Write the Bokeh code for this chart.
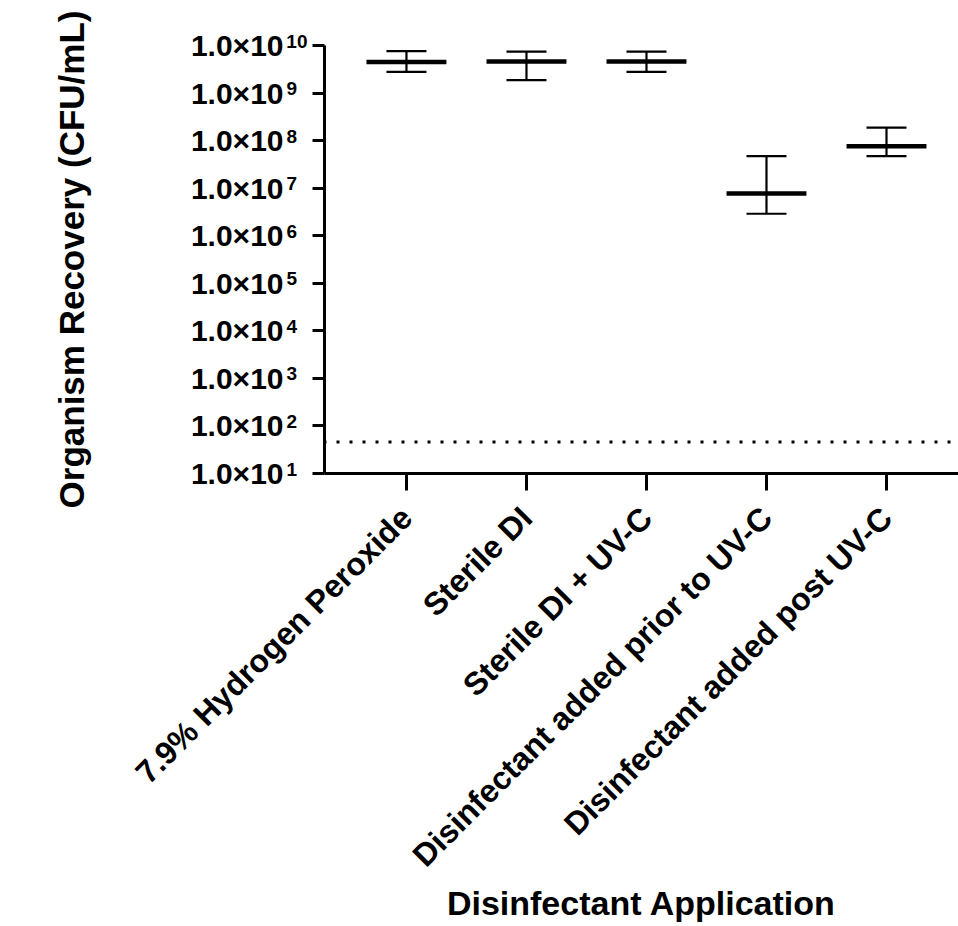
import math
from bokeh.plotting import figure
from bokeh.models import (Range1d, FixedTicker, Whisker, TeeHead, ColumnDataSource,
                          Span, LogAxis)
from bokeh.embed import file_html
from bokeh.resources import INLINE

# ---- data ----
categories = ["7.9% Hydrogen Peroxide", "Sterile DI", "Sterile DI + UV-C",
              "Disinfectant added prior to UV-C", "Disinfectant added post UV-C"]
means = [4.5e9, 4.6e9, 4.6e9, 7.7e6, 7.6e7]
upper = [7.6e9, 7.4e9, 7.4e9, 4.7e7, 1.87e8]
lower = [2.8e9, 1.87e9, 2.8e9, 2.9e6, 4.7e7]
detection_limit = 46
y_ticks = [1e1, 1e2, 1e3, 1e4, 1e5, 1e6, 1e7, 1e8, 1e9, 1e10]
y_tick_mantissa = "1.0×10"
y_tick_exponents = ["1", "2", "3", "4", "5", "6", "7", "8", "9", "10"]
x_title = "Disinfectant Application"
y_title = "Organism Recovery (CFU/mL)"

FONT = "Liberation Sans"
NBSP = "\u00a0"
xs = list(range(len(categories)))
mean_half = 0.333
X_START = -0.683

src = ColumnDataSource(dict(x=xs, mean=means, upper=upper, lower=lower,
                            x0=[x - mean_half for x in xs],
                            x1=[x + mean_half for x in xs]))

p = figure(width=958, height=926, output_backend="svg", toolbar_location=None,
           y_axis_type="log",
           x_range=Range1d(X_START, 4.6), y_range=Range1d(10, 1e10),
           min_border_left=324, min_border_right=0, min_border_top=45,
           min_border_bottom=453)
p.outline_line_color = None
p.xgrid.visible = False
p.ygrid.visible = False
p.background_fill_color = "white"
p.border_fill_color = "white"

# mean lines
p.segment(x0="x0", y0="mean", x1="x1", y1="mean", source=src,
          line_color="black", line_width=4.5)
# error bars
w = Whisker(source=src, base="x", upper="upper", lower="lower",
            line_color="black", line_width=2.2,
            upper_head=TeeHead(size=40, line_color="black", line_width=2.2),
            lower_head=TeeHead(size=40, line_color="black", line_width=2.2))
p.add_layout(w)

# detection limit dotted line
p.add_layout(Span(location=detection_limit, dimension="width", line_color="black",
                  line_width=3, line_dash="3 10", line_dash_offset=-12))

# inner y axis: axis line, ticks and the raised exponents
# (exponents padded on the right so that all start right after the mantissa,
#  and given an empty second line so that they sit raised)
exp_texts = [e + NBSP * (2 * (2 - len(e))) + "\n" for e in y_tick_exponents]
ya = p.yaxis[0]
ya.ticker = FixedTicker(ticks=y_ticks, minor_ticks=[])
ya.major_label_overrides = {t: e for t, e in zip(y_ticks, exp_texts)}
ya.major_label_text_font = FONT
ya.major_label_text_font_style = "bold"
ya.major_label_text_font_size = "19px"
ya.major_label_text_line_height = 0.42
ya.major_label_text_color = "black"
ya.major_label_standoff = 5
ya.axis_line_width = 3
ya.major_tick_line_width = 3
ya.major_tick_out = 12
ya.major_tick_in = 0
ya.minor_tick_out = 0
ya.minor_tick_in = 0

# outer y axis: mantissa "1.0×10" and the axis title
ya2 = LogAxis(ticker=FixedTicker(ticks=y_ticks, minor_ticks=[]),
              axis_line_color=None, major_tick_line_color=None,
              minor_tick_line_color=None, major_tick_out=0, major_tick_in=0,
              minor_tick_out=0, minor_tick_in=0, major_label_standoff=0,
              major_label_overrides={t: y_tick_mantissa for t in y_ticks},
              major_label_text_font=FONT, major_label_text_font_style="bold",
              major_label_text_font_size="30px", major_label_text_color="black",
              axis_label=y_title, axis_label_text_font=FONT,
              axis_label_text_font_style="bold", axis_label_text_font_size="35px",
              axis_label_text_color="black", axis_label_standoff=97)
p.add_layout(ya2, "left")

# x axis
xa = p.xaxis[0]
xa.ticker = FixedTicker(ticks=xs, minor_ticks=[])
xa.major_label_overrides = {x: c for x, c in zip(xs, categories)}
xa.major_label_orientation = math.pi / 4
xa.axis_line_width = 3
xa.major_tick_line_width = 3
xa.major_tick_out = 17
xa.major_tick_in = 0
xa.minor_tick_out = 0
xa.minor_tick_in = 0
xa.major_label_standoff = 22
xa.major_label_text_font = FONT
xa.major_label_text_font_style = "bold"
xa.major_label_text_font_size = "32px"
xa.major_label_text_color = "black"
xa.axis_label = x_title
xa.axis_label_text_font = FONT
xa.axis_label_text_font_style = "bold"
xa.axis_label_text_font_size = "34px"
xa.axis_label_text_color = "black"
xa.axis_label_standoff = -5

open("out.html", "w").write(file_html(p, INLINE))
